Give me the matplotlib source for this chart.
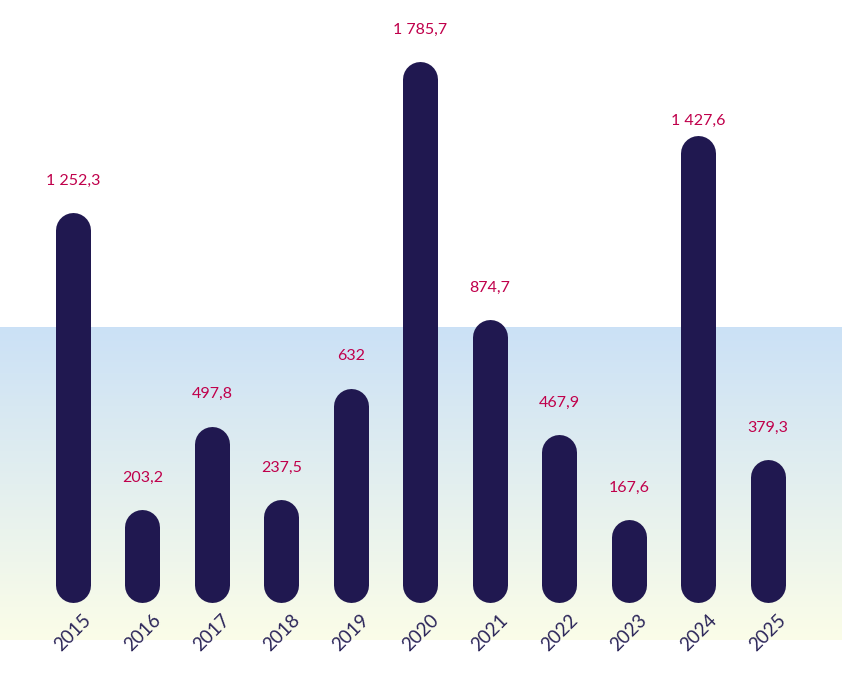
import numpy as np
import matplotlib.pyplot as plt

years = ['2015', '2016', '2017', '2018', '2019', '2020', '2021', '2022', '2023', '2024', '2025']
values = [1252.3, 203.2, 497.8, 237.5, 632, 1785.7, 874.7, 467.9, 167.6, 1427.6, 379.3]
# bar heights as drawn in the picture (the 2024 bar is drawn taller than its label)
bar_values = [1252.3, 203.2, 497.8, 237.5, 632, 1785.7, 874.7, 467.9, 167.6, 1524, 379.3]
value_labels = ['1 252,3', '203,2', '497,8', '237,5', '632', '1 785,7',
                '874,7', '467,9', '167,6', '1 427,6', '379,3']

bar_color = '#201850'
label_color = '#c0004b'
tick_color = '#2b2559'

fig = plt.figure(figsize=(8.42, 6.87), dpi=100)
ax = fig.add_axes([0, 0, 1, 1])
ax.set_xlim(-1.05, 11.065)
ax.set_ylim(-362, 2065)
ax.axis('off')

# gradient band behind the bars
grad = np.linspace(0, 1, 256).reshape(-1, 1)
top = np.array([0.796, 0.882, 0.965])
bottom = np.array([0.984, 0.992, 0.910])
img = top + (bottom - top) * grad[:, :, None]
ax.imshow(img, extent=[0, 1, 0.0684, 0.524], transform=ax.transAxes,
          aspect='auto', zorder=0)

x = np.arange(len(years))
for xi, v, bv, lab, yr in zip(x, values, bar_values, value_labels, years):
    ax.plot([xi, xi], [0, bv], color=bar_color, linewidth=25.2,
            solid_capstyle='round', zorder=2)
    label_y = max(v + 175, bv + 113)
    ax.text(xi, label_y, lab, ha='center', va='center', color=label_color,
            fontsize=11.5, family='Lato', zorder=3)
    ax.text(xi, 0.0786, yr, ha='center', va='center', rotation=45,
            color=tick_color, fontsize=13.5, family='Lato',
            transform=ax.get_xaxis_transform(), zorder=3)

fig.savefig('out.png', dpi=100)
